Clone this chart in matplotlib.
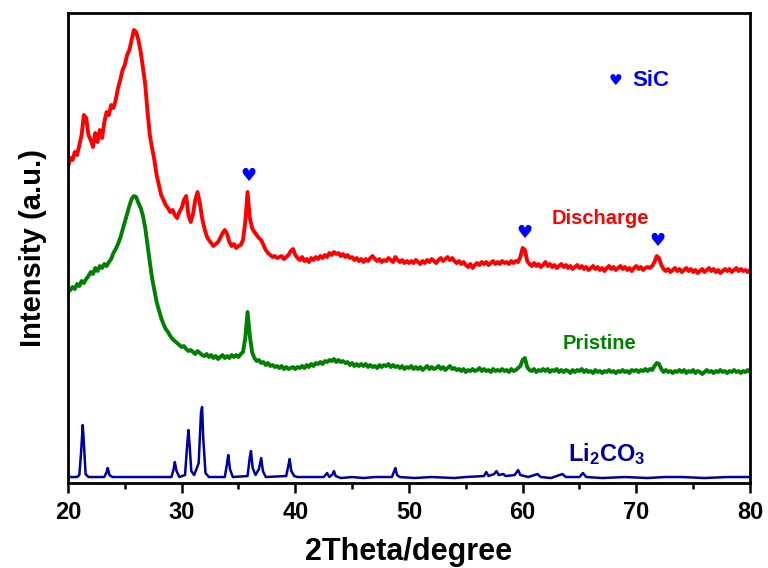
import numpy as np
import matplotlib
matplotlib.use("Agg")
import matplotlib.pyplot as plt

plt.rcParams['font.family'] = ['Liberation Sans', 'DejaVu Sans']
plt.rcParams['font.weight'] = 'bold'
plt.rcParams['mathtext.fontset'] = 'custom'
plt.rcParams['mathtext.bf'] = 'Liberation Sans:bold'
plt.rcParams['mathtext.rm'] = 'Liberation Sans:bold'

# measurement grid, 20-80 deg in 0.2 deg steps
two_theta = np.linspace(20, 80, 301)

discharge = [
    316, 325, 323, 331, 328, 338, 348, 368, 365, 348,
    343, 336, 350, 341, 353, 345, 361, 371, 368, 378,
    375, 383, 395, 403, 413, 418, 428, 433, 443, 453,
    451, 443, 431, 415, 398, 371, 348, 335, 323, 308,
    298, 288, 283, 278, 275, 271, 273, 268, 265, 271,
    275, 283, 287, 268, 261, 269, 283, 291, 280, 265,
    255, 247, 243, 240, 237, 239, 241, 245, 250, 253,
    249, 241, 237, 239, 235, 237, 238, 243, 261, 291,
    265, 255, 251, 248, 245, 243, 238, 233, 230, 228,
    226, 227, 225, 226, 227, 224, 226, 228, 232, 234,
    228, 225, 223, 226, 222, 224, 221, 225, 223, 226,
    224, 227, 225, 228, 226, 230, 228, 231, 229, 230,
    227, 229, 226, 228, 225, 226, 223, 225, 222, 224,
    221, 224, 222, 225, 227, 224, 222, 224, 221, 223,
    222, 225, 223, 221, 226, 223, 221, 223, 220, 222,
    220, 222, 220, 223, 221, 219, 222, 220, 223, 221,
    224, 222, 220, 223, 225, 222, 224, 226, 223, 225,
    222, 220, 222, 219, 221, 218, 216, 219, 215, 218,
    220, 218, 221, 219, 221, 218, 220, 222, 219, 221,
    219, 222, 220, 221, 219, 222, 220, 222, 221, 226,
    235, 233, 222, 219, 217, 220, 217, 219, 216, 218,
    221, 217, 219, 216, 218, 215, 217, 219, 216, 218,
    215, 217, 214, 216, 218, 215, 217, 214, 216, 213,
    215, 217, 214, 216, 213, 215, 212, 215, 217, 214,
    216, 213, 215, 217, 214, 216, 213, 215, 212, 215,
    217, 214, 216, 213, 215, 216, 215, 217, 221, 227,
    225, 218, 214, 212, 214, 211, 213, 215, 212, 214,
    211, 213, 215, 212, 214, 211, 213, 210, 212, 214,
    211, 213, 215, 212, 214, 211, 213, 210, 212, 214,
    212, 214, 211, 213, 215, 212, 214, 212, 213, 211,
    213,
]

pristine = [
    191, 193, 196, 194, 199, 197, 202, 200, 204, 207,
    211, 209, 215, 212, 217, 215, 219, 217, 221, 224,
    230, 234, 239, 245, 253, 261, 269, 277, 284, 287,
    286, 280, 275, 267, 255, 238, 221, 205, 193, 181,
    173, 165, 159, 154, 151, 147, 144, 142, 140, 138,
    136, 137, 134, 132, 133, 131, 129, 132, 130, 128,
    127, 129, 126, 128, 125, 127, 124, 126, 128, 125,
    127, 125, 128, 126, 128, 126, 129, 131, 145, 171,
    147, 131, 125, 122, 123, 120, 121, 118, 120, 117,
    118, 116, 117, 115, 117, 114, 116, 114, 115, 116,
    114, 116, 115, 117, 115, 118, 116, 119, 117, 120,
    119, 121, 119, 122, 121, 123, 122, 124, 121, 123,
    121, 122, 120, 121, 118, 120, 117, 119, 117, 119,
    117, 119, 116, 118, 116, 117, 115, 118, 116, 118,
    117, 119, 116, 118, 116, 117, 115, 117, 114, 116,
    115, 117, 114, 116, 114, 116, 113, 115, 117, 114,
    116, 114, 115, 117, 114, 116, 113, 115, 117, 114,
    115, 113, 114, 112, 114, 111, 113, 112, 114, 112,
    113, 115, 112, 114, 112, 113, 111, 114, 112, 113,
    112, 114, 112, 113, 111, 114, 112, 113, 115, 117,
    123, 125, 116, 113, 112, 114, 111, 113, 112, 114,
    112, 114, 111, 113, 112, 114, 111, 113, 111, 113,
    112, 110, 113, 111, 113, 112, 114, 111, 113, 111,
    112, 110, 113, 111, 112, 110, 112, 111, 113, 111,
    112, 110, 112, 111, 113, 111, 112, 110, 113, 112,
    113, 111, 113, 112, 114, 112, 114, 113, 117, 120,
    119, 114, 111, 113, 111, 112, 110, 112, 111, 113,
    111, 113, 110, 112, 111, 113, 110, 112, 111, 109,
    111, 113, 111, 112, 110, 112, 111, 113, 111, 112,
    110, 112, 111, 113, 111, 112, 110, 112, 111, 113,
    111,
]

li2co3_x = [20.0, 20.8, 21.0, 21.15, 21.3, 21.4, 21.55, 21.8, 23.2, 23.4, 23.5, 23.65, 23.9,
            29.1, 29.3, 29.4, 29.55, 29.8, 30.3, 30.5, 30.6, 30.7, 30.85, 31.1, 31.5, 31.7,
            31.8, 31.9, 32.1, 32.4, 33.8, 34.0, 34.1, 34.25, 34.5, 35.8, 36.0, 36.1, 36.25,
            36.5, 36.8, 37.0, 37.15, 37.4, 39.2, 39.4, 39.5, 39.65, 39.9, 40.2, 42.5, 42.8,
            43.0, 43.3, 43.4, 43.55, 44.0, 45.0, 46.0, 47.0, 48.5, 48.7, 48.8, 48.95, 49.2,
            50.5, 52.0, 54.0, 55.0, 56.6, 56.8, 57.0, 57.5, 57.7, 57.9, 58.3, 58.5, 59.3,
            59.6, 59.8, 60.5, 61.3, 61.6, 62.5, 63.5, 63.8, 65.0, 65.3, 65.6, 67.0, 69.0,
            71.0, 72.5, 74.0, 76.0, 78.0, 80.0]
li2co3_y = [6, 6, 8, 30, 58, 40, 9, 6, 6, 11, 15, 8, 6,
            6, 14, 21, 12, 6, 8, 40, 53, 38, 12, 8, 20, 70,
            76, 45, 10, 6, 6, 20, 28, 14, 6, 7, 26, 32, 15,
            8, 14, 25, 12, 6, 7, 18, 24, 12, 7, 6, 6, 10,
            6, 9, 12, 7, 5, 6, 5, 6, 6, 12, 15, 8, 6,
            5, 6, 5, 6, 7, 11, 7, 9, 12, 8, 9, 7, 8,
            13, 8, 6, 9, 6, 5, 9, 6, 6, 10, 6, 5, 6,
            5, 6, 6, 5, 6, 6]

sic_peaks_x = [35.84, 60.12, 71.9]
sic_peaks_y = [307, 250, 242]

fig = plt.figure(figsize=(7.68, 5.68), dpi=100)
ax = fig.add_axes([0.0885, 0.1496, 0.888, 0.8275])

ax.plot(two_theta, discharge, color='#FF0000', lw=2.8)
ax.plot(two_theta, pristine, color='#008000', lw=2.8)
ax.plot(li2co3_x, li2co3_y, color='#00009C', lw=1.8)

for sx, sy in zip(sic_peaks_x, sic_peaks_y):
    ax.text(sx, sy, '\u2665', color='#0000FF', fontsize=13, ha='center', va='center',
            family=['DejaVu Sans'])
ax.text(68.2, 403, '\u2665', color='#0000FF', fontsize=11, ha='center', va='center',
        family=['DejaVu Sans'])
ax.text(69.65, 403, 'SiC', color='#0000FF', fontsize=16, fontweight='bold', ha='left', va='center')

ax.text(66.8, 265, 'Discharge', color='#FF0000', fontsize=14.5, fontweight='bold', ha='center', va='center')
ax.text(66.8, 140, 'Pristine', color='#008000', fontsize=14.5, fontweight='bold', ha='center', va='center')
ax.text(67.4, 29, r'$\mathbf{Li_2CO_3}$', color='#00009C', fontsize=17, ha='center', va='center')

ax.set_xlim(20, 80)
ax.set_ylim(0, 470)
ax.set_xticks([20, 30, 40, 50, 60, 70, 80])
ax.set_xticks([25, 35, 45, 55, 65, 75], minor=True)
ax.set_yticks([])
ax.tick_params(axis='x', which='major', direction='out', length=7, width=1.8, labelsize=17, pad=6)
ax.tick_params(axis='x', which='minor', direction='out', length=4, width=1.8)
for lbl in ax.get_xticklabels():
    lbl.set_fontweight('bold')
for s in ax.spines.values():
    s.set_linewidth(2.0)

ax.set_xlabel('2Theta/degree', fontsize=22, fontweight='bold', labelpad=9)
ax.set_ylabel('Intensity (a.u.)', fontsize=21, fontweight='bold', labelpad=15)

fig.savefig('out.png', dpi=100)
